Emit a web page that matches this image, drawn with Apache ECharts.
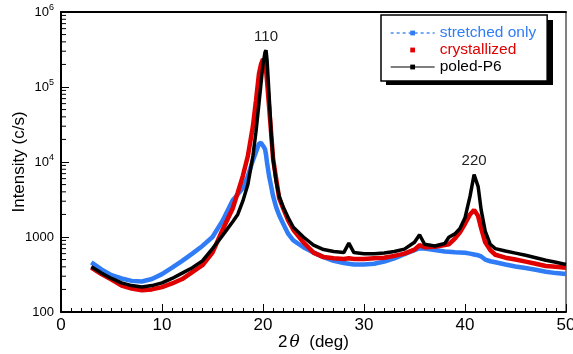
<!DOCTYPE html>
<html>
<head>
<meta charset="utf-8">
<script src="https://cdn.jsdelivr.net/npm/echarts@6/dist/echarts.min.js"></script>
<style>
  html, body { margin: 0; padding: 0; background: #fff; }
  #chart { width: 573px; height: 354px; }
</style>
</head>
<body>
<div id="chart"></div>
<script>
const twoTheta = [3, 4, 5, 6, 7, 8, 9, 10, 11, 12, 13, 14, 15, 16, 17, 17.5, 18, 18.5, 19, 19.3, 19.6, 19.8, 20, 20.2, 20.3, 20.4, 20.6, 20.8, 21, 21.3, 21.6, 22, 22.5, 23, 24, 25, 26, 27, 28, 28.5, 29, 30, 31, 32, 33, 34, 35, 35.5, 36, 37, 38, 38.4, 39, 39.5, 40, 40.5, 40.9, 41.3, 41.6, 42, 42.5, 43, 44, 45, 46, 47, 48, 49, 50]

// intensity (c/s)
const stretchedOnly = [460, 370, 310, 280, 260, 255, 275, 320, 390, 480, 600, 760, 1000, 1650, 3100, 3700, 4500, 6500, 10500, 13500, 17500, 18000, 16500, 14800, 12500, 9800, 6500, 4800, 3500, 2500, 1950, 1500, 1100, 900, 730, 620, 540, 480, 450, 440, 430, 430, 440, 470, 520, 590, 670, 710, 700, 670, 640, 635, 625, 620, 615, 600, 585, 570, 550, 500, 475, 460, 430, 405, 385, 365, 345, 330, 320]
const crystallized = [390, 320, 270, 225, 205, 195, 200, 215, 240, 275, 340, 420, 620, 1250, 2400, 3900, 6500, 12000, 30000, 65000, 150000, 200000, 235000, 210000, 170000, 120000, 55000, 25000, 11000, 6000, 3300, 2400, 1650, 1250, 850, 620, 540, 520, 510, 520, 510, 510, 520, 530, 560, 600, 680, 780, 730, 740, 780, 800, 950, 1150, 1500, 2000, 2300, 1900, 1300, 850, 670, 580, 530, 500, 470, 440, 410, 400, 390]
const poledP6 = [400, 330, 280, 245, 225, 215, 225, 245, 280, 330, 390, 480, 700, 1050, 1600, 2000, 3000, 5000, 12000, 25000, 60000, 110000, 200000, 290000, 310000, 230000, 80000, 25000, 11000, 5500, 3500, 2500, 1800, 1350, 1000, 780, 680, 640, 620, 830, 620, 600, 600, 610, 640, 690, 850, 1070, 800, 760, 820, 990, 1100, 1300, 1800, 3500, 6800, 4700, 2300, 1200, 800, 700, 650, 610, 570, 530, 490, 460, 430]

const seriesNames = ['stretched only', 'crystallized', 'poled-P6']
const seriesColors = ['#2f7cf6', '#e00000', '#000000']

// reflection labels and the peak they sit above
const peakLabels = ['110', '220']
const peakAt = [[20.3, 310000], [40.9, 6800]]

// log minor ticks 2..9 in every decade
const yMinorTicks = []
for (let d = 100; d < 1e6; d *= 10) {
  for (let m = 2; m <= 9; m++) yMinorTicks.push(d * m)
}

const font = 'Liberation Sans, Arial, sans-serif'
const chart = echarts.init(document.getElementById('chart'))

const pair = (ys) => twoTheta.map((x, i) => [x, ys[i]])

const option = {
  animation: false,
  grid: {
    left: 61, right: 7, top: 12, bottom: 42,
    outerBoundsMode: 'none',
    containLabel: false,
    show: true, borderColor: '#000', borderWidth: 1
  },
  // hard drop shadow behind the legend box
  graphic: [{
    type: 'rect', z: 0,
    shape: { x: 386, y: 20, width: 167, height: 65 },
    style: { fill: '#000' }
  }],
  legend: {
    z: 10,
    orient: 'vertical',
    left: 381,
    top: 15,
    width: 146,
    padding: [10, 11, 6, 9],
    backgroundColor: '#fff',
    borderColor: '#000',
    borderWidth: 1.5,
    borderRadius: 0,
    itemWidth: 44,
    itemHeight: 6,
    itemGap: 1,
    itemTextGap: 7,
    textStyle: { fontSize: 15.5, fontFamily: font, lineHeight: 16 },
    data: [
      { name: seriesNames[0], textStyle: { color: seriesColors[0] }, lineStyle: { width: 1.3, type: [3, 3] } },
      { name: seriesNames[1], textStyle: { color: seriesColors[1] }, lineStyle: { opacity: 0, width: 0 } },
      { name: seriesNames[2], textStyle: { color: '#000' }, lineStyle: { width: 1.2 } }
    ]
  },
  xAxis: [{
    type: 'value',
    min: 0, max: 50, interval: 10,
    name: '{n|2}{t|θ}{n|  (deg)}',
    nameLocation: 'middle',
    nameGap: 22,
    nameMoveOverlap: false,
    nameTextStyle: {
      rich: {
        n: { fontSize: 17, fontFamily: font, color: '#000' },
        t: { fontSize: 17, fontFamily: 'DejaVu Serif, serif', fontStyle: 'italic', color: '#000', padding: [0, 0, 0, 2] }
      }
    },
    axisLine: { lineStyle: { color: '#000', width: 2 } },
    axisTick: { inside: true, length: 8, lineStyle: { color: '#000', width: 1 } },
    minorTick: { show: true, splitNumber: 10, length: 4, lineStyle: { color: '#000', width: 1 } },
    axisLabel: { fontSize: 17, fontFamily: font, color: '#000', margin: 5 },
    splitLine: { show: false }
  }, {
    type: 'value',
    position: 'top',
    min: 0, max: 50,
    axisLine: { show: true, lineStyle: { color: '#000', width: 2 } },
    axisTick: { show: false },
    axisLabel: { show: false },
    splitLine: { show: false }
  }],
  yAxis: {
    type: 'log',
    logBase: 10,
    min: 100, max: 1e6,
    name: 'Intensity (c/s)',
    nameLocation: 'middle',
    nameGap: 33,
    nameMoveOverlap: false,
    nameRotate: 90,
    nameTextStyle: { fontSize: 17, fontFamily: font, color: '#000' },
    axisLine: { show: true, lineStyle: { color: '#000', width: 2 } },
    axisTick: { inside: true, length: 8, lineStyle: { color: '#000', width: 1 } },
    axisLabel: {
      margin: 7,
      color: '#000',
      fontFamily: font,
      fontSize: 13,
      formatter: (v) => {
        const e = Math.round(Math.log10(v))
        if (e <= 3) return '{b|' + Math.round(v) + '}'
        return '{b|10}{s|' + e + '}'
      },
      rich: {
        b: { fontSize: 13, fontFamily: font, color: '#000' },
        s: { fontSize: 9, fontFamily: font, color: '#000', verticalAlign: 'bottom', padding: [0, 0, 9, 0] }
      }
    },
    splitLine: { show: false }
  },
  series: [
    {
      name: seriesNames[0], type: 'line', data: pair(stretchedOnly),
      symbol: 'rect', symbolSize: 4, showSymbol: false,
      color: seriesColors[0],
      lineStyle: { width: 4.5, color: seriesColors[0] },
      z: 2
    },
    {
      name: seriesNames[1], type: 'line', data: pair(crystallized),
      symbol: 'rect', symbolSize: 4, showSymbol: false,
      color: seriesColors[1],
      lineStyle: { width: 4.5, color: seriesColors[1] },
      z: 3
    },
    {
      name: seriesNames[2], type: 'line', data: pair(poledP6),
      symbol: 'rect', symbolSize: 4, showSymbol: false,
      color: seriesColors[2],
      lineStyle: { width: 3.5, color: seriesColors[2] },
      z: 4,
      markPoint: {
        symbol: 'circle',
        symbolSize: 0,
        label: {
          show: true, position: 'top', distance: 6,
          fontSize: 15, fontFamily: font, color: '#222',
          formatter: (p) => p.name
        },
        data: peakLabels.map((t, i) => ({ name: t, coord: peakAt[i] }))
      }
    },
    {
      type: 'custom',
      silent: true,
      clip: false,
      z: 5,
      data: yMinorTicks.map((v) => [0, v]),
      encode: { x: 0, y: 1 },
      renderItem: (params, api) => {
        const p = api.coord([api.value(0), api.value(1)])
        return {
          type: 'line',
          shape: { x1: p[0], y1: p[1], x2: p[0] + 5, y2: p[1] },
          style: { stroke: '#000', lineWidth: 1 }
        }
      }
    }
  ]
}

chart.setOption(option)
</script>
</body>
</html>
